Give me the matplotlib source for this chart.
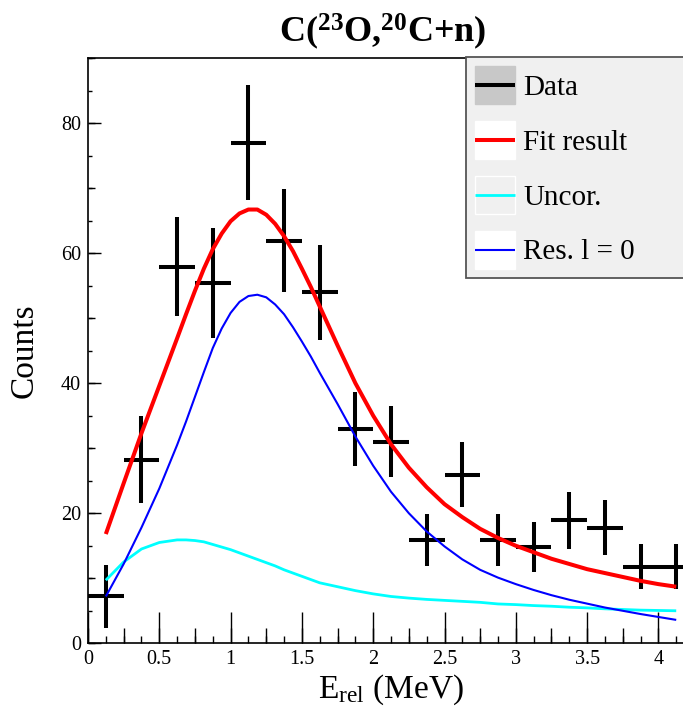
import matplotlib
matplotlib.use("Agg")
import matplotlib.pyplot as plt
from matplotlib.lines import Line2D
from matplotlib.patches import Patch, Rectangle
from matplotlib.legend_handler import HandlerBase
from matplotlib.ticker import MultipleLocator

plt.rcParams['font.family'] = ['Liberation Serif', 'DejaVu Serif']
plt.rcParams['mathtext.fontset'] = 'custom'
plt.rcParams['mathtext.rm'] = 'Liberation Serif'
plt.rcParams['mathtext.it'] = 'Liberation Serif:italic'
plt.rcParams['mathtext.bf'] = 'Liberation Serif:bold'

# ---------------- data ----------------
data_x = [0.125, 0.375, 0.625, 0.875, 1.125, 1.375, 1.625, 1.875, 2.125,
          2.375, 2.625, 2.875, 3.125, 3.375, 3.625, 3.875, 4.125]
data_y = [7.2, 28.2, 57.9, 55.4, 77.0, 61.9, 54.0, 32.9, 31.0,
          15.9, 25.9, 15.9, 14.8, 18.9, 17.8, 11.8, 11.8]
data_err = [4.9, 6.7, 7.6, 8.4, 8.8, 7.9, 7.3, 5.7, 5.5,
            4.0, 5.0, 4.0, 3.9, 4.35, 4.2, 3.4, 3.4]
bin_half = 0.125

curve_x = [0.125, 0.25, 0.375, 0.5, 0.625, 0.6875, 0.75, 0.8125, 0.875,
           0.9375, 1.0, 1.0625, 1.125, 1.1875, 1.25, 1.3125, 1.375, 1.4375,
           1.5, 1.5625, 1.625, 1.6875, 1.75, 1.875, 2.0, 2.125, 2.25, 2.375,
           2.5, 2.625, 2.75, 2.875, 3.0, 3.125, 3.25, 3.375, 3.5, 3.625,
           3.75, 3.875, 4.0, 4.125]
fit_y = [16.8, 24.6, 32.3, 39.6, 46.9, 50.6, 54.2, 57.6, 60.6,
         63.0, 64.9, 66.1, 66.7, 66.7, 65.9, 64.5, 62.6, 60.3,
         57.6, 54.8, 51.8, 48.8, 45.8, 40.0, 35.0, 30.6, 27.0, 24.0,
         21.4, 19.4, 17.6, 16.2, 15.0, 14.0, 13.0, 12.2, 11.4, 10.8,
         10.2, 9.6, 9.1, 8.7]
res_y = [7.2, 12.2, 17.8, 23.8, 30.5, 34.1, 37.9, 41.7, 45.4,
         48.4, 50.8, 52.5, 53.4, 53.6, 53.2, 52.1, 50.6, 48.6,
         46.4, 44.1, 41.6, 39.2, 36.8, 31.8, 27.3, 23.3, 20.0, 17.2,
         14.9, 12.9, 11.3, 10.1, 9.1, 8.2, 7.4, 6.7, 6.1, 5.5,
         5.0, 4.5, 4.05, 3.6]
uncor_y = [9.7, 12.5, 14.5, 15.5, 15.9, 15.9, 15.8, 15.6, 15.2,
           14.8, 14.4, 13.9, 13.4, 12.9, 12.4, 11.9, 11.3, 10.8,
           10.3, 9.8, 9.3, 9.0, 8.7, 8.1, 7.6, 7.2, 6.95, 6.75,
           6.6, 6.45, 6.3, 6.05, 5.95, 5.8, 5.7, 5.55, 5.45, 5.3,
           5.2, 5.1, 5.05, 5.0]

xtick_vals = [0, 0.5, 1, 1.5, 2, 2.5, 3, 3.5, 4]
xtick_labels = ['0', '0.5', '1', '1.5', '2', '2.5', '3', '3.5', '4']
ytick_vals = [0, 20, 40, 60, 80]
ytick_labels = ['0', '20', '40', '60', '80']

title = r'C($^{\mathbf{23}}$O,$^{\mathbf{20}}$C+n)'
xlabel = r'E$_{\rm rel}$ (MeV)'
ylabel = 'Counts'
legend_labels = ['Data', 'Fit result', 'Uncor.', 'Res. l = 0']


class BoxLineHandler(HandlerBase):
    def __init__(self, color, lw):
        super().__init__()
        self.color = color
        self.lw = lw

    def create_artists(self, legend, orig_handle, xdescent, ydescent,
                       width, height, fontsize, trans):
        rect = Rectangle((-xdescent, -ydescent), width, height,
                         facecolor=orig_handle.get_facecolor(),
                         edgecolor=orig_handle.get_edgecolor(), lw=1.0,
                         transform=trans)
        yc = -ydescent + height / 2
        line = Line2D([-xdescent, -xdescent + width], [yc, yc],
                      color=self.color, lw=self.lw, transform=trans,
                      solid_capstyle='butt')
        return [rect, line]


# ---------------- figure ----------------
W, H = 683, 712
fig = plt.figure(figsize=(W / 100, H / 100), dpi=100)
ax_left = 88 / W
ax_bottom = (H - 643.3) / H
ax_h = (643.3 - 58) / H
ax_w = 4.25 * 142.6 / W
ax = fig.add_axes([ax_left, ax_bottom, ax_w, ax_h])
ax.set_xlim(0, 4.25)
ax.set_ylim(0, 90)

ax.errorbar(data_x, data_y, yerr=data_err, xerr=bin_half, fmt='none',
            ecolor='black', elinewidth=2.9, capsize=0, zorder=2)
ax.plot(curve_x, uncor_y, color='#00ffff', lw=2.0, zorder=3,
        solid_joinstyle='round', solid_capstyle='butt')
ax.plot(curve_x, res_y, color='#0000ff', lw=1.5, zorder=4,
        solid_joinstyle='round', solid_capstyle='butt')
ax.plot(curve_x, fit_y, color='#ff0000', lw=2.9, zorder=5,
        solid_joinstyle='round', solid_capstyle='butt')

for s in ['left', 'bottom', 'top']:
    ax.spines[s].set_linewidth(1.2)
ax.spines['right'].set_visible(False)

ax.set_xticks(xtick_vals, xtick_labels)
ax.set_yticks(ytick_vals, ytick_labels)
ax.xaxis.set_minor_locator(MultipleLocator(0.125))
ax.yaxis.set_minor_locator(MultipleLocator(5))
ax.tick_params(axis='x', which='major', direction='in', length=22, width=1.0,
               labelsize=14.5, pad=5, top=False)
ax.tick_params(axis='x', which='minor', direction='in', length=5.3, width=1.0,
               top=False)
ax.tick_params(axis='y', which='major', direction='in', length=9.1, width=1.0,
               labelsize=14.5, pad=5, right=False)
ax.tick_params(axis='y', which='minor', direction='in', length=2.9, width=1.0,
               right=False)

# medium ticks (ROOT style three-level ticks)
secx = ax.secondary_xaxis('bottom')
secx.xaxis.set_major_locator(MultipleLocator(0.25))
secx.tick_params(axis='x', which='major', direction='in', length=10.8,
                 width=1.0, labelbottom=False)
secx.xaxis.set_minor_locator(plt.NullLocator())
secx.spines['bottom'].set_visible(False)
secy = ax.secondary_yaxis('left')
secy.yaxis.set_major_locator(MultipleLocator(10))
secy.tick_params(axis='y', which='major', direction='in', length=5.0,
                 width=1.0, labelleft=False)
secy.yaxis.set_minor_locator(plt.NullLocator())
secy.spines['left'].set_visible(False)

ax.set_xlabel(xlabel, fontsize=24)
ax.xaxis.set_label_coords((391 - 88) / (ax_w * W), -0.05)
ax.xaxis.label.set_va('top')
ax.set_ylabel(ylabel, fontsize=24)
ax.yaxis.set_label_coords(-0.079, 0.5)

fig.text(382.5 / W, 1 - 32 / H, title, fontsize=26, fontweight='bold',
         ha='center', va='center')

# ---------------- legend ----------------
h_data = Patch(facecolor='#c8c8c8', edgecolor='#c8c8c8')
h_fit = Patch(facecolor='white', edgecolor='white')
h_unc = Patch(facecolor='#f0f0f0', edgecolor='white')
h_res = Patch(facecolor='white', edgecolor='white')
hmap = {h_data: BoxLineHandler('black', 2.9),
        h_fit: BoxLineHandler('#ff0000', 2.9),
        h_unc: BoxLineHandler('#00ffff', 2.0),
        h_res: BoxLineHandler('#0000ff', 1.5)}
leg = ax.legend([h_data, h_fit, h_unc, h_res], legend_labels,
                handler_map=hmap, loc='upper left',
                bbox_to_anchor=(466 / W, 1 - 57 / H, 0.4, 0),
                bbox_transform=fig.transFigure, mode='expand',
                borderaxespad=0, fontsize=21, frameon=True, fancybox=False,
                framealpha=1, facecolor='#f0f0f0', edgecolor='#555555',
                handlelength=1.38, handleheight=1.63, handletextpad=0.28,
                labelspacing=0.58, borderpad=0.31)
leg.get_frame().set_linewidth(1.3)
leg.set_zorder(10)

fig.savefig('out.png', dpi=100)
